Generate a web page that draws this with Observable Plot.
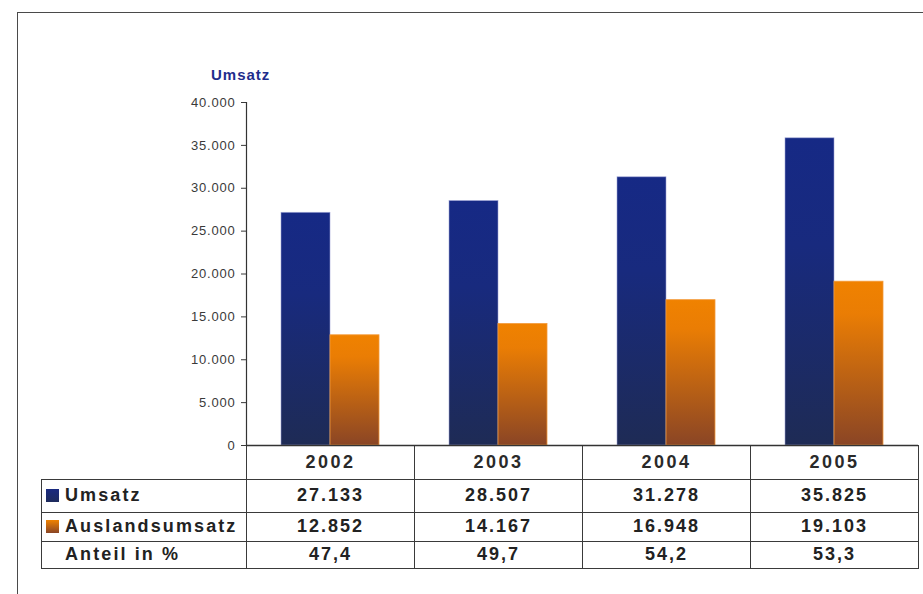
<!DOCTYPE html>
<html><head><meta charset="utf-8">
<script src="https://cdn.jsdelivr.net/npm/d3@7"></script>
<script src="https://cdn.jsdelivr.net/npm/@observablehq/plot@0.6"></script>
<style>
html,body{margin:0;padding:0;background:#fff;overflow:hidden;width:923px;height:594px;}
body{position:relative;font-family:"Liberation Sans",Arial,sans-serif;}
#frame{position:absolute;left:17px;top:12px;width:1000px;height:700px;border:1.5px solid #4a4a4a;box-sizing:border-box;}
#chart{position:absolute;left:0;top:0;}
#chart g[aria-label="fx-axis tick label"] text{letter-spacing:2.5px;}
#chart g[aria-label="y-axis tick label"] text{letter-spacing:0.8px;}
#title{position:absolute;left:211px;top:66px;font-size:15px;font-weight:bold;letter-spacing:1px;color:#1f2d8c;}
#tbl{position:absolute;left:41px;top:445px;border-collapse:collapse;table-layout:fixed;width:877px;color:#222;font-weight:bold;font-size:18px;letter-spacing:2px;}
#tbl td{border:1px solid #3a3a3a;padding:0;text-align:center;vertical-align:middle;}
#tbl tr.yr td{border-top:none;}
#tbl tr.yr td.blank{border-left:none;}
#tbl td.lab{text-align:left;padding-left:4px;letter-spacing:2.1px;}
.sq{display:inline-block;width:13px;height:13px;margin-right:6px;vertical-align:-1px;}
</style>
</head><body>
<div id="frame"></div>
<table id="tbl"><colgroup><col style="width:205px"><col style="width:168px"><col style="width:168px"><col style="width:168px"><col style="width:168px"></colgroup><tbody></tbody></table>
<div id="chart"></div>
<div id="title"></div>
<script>
const years = ["2002", "2003", "2004", "2005"];
const seriesNames = ["Umsatz", "Auslandsumsatz"];
const umsatz = [27133, 28507, 31278, 35825];
const auslandsumsatz = [12852, 14167, 16948, 19103];
const anteil = [47.4, 49.7, 54.2, 53.3];
const anteilLabel = "Anteil in %";
const axisTitle = "Umsatz";
const yTicks = [0, 5000, 10000, 15000, 20000, 25000, 30000, 35000, 40000];

const de = d3.formatLocale({decimal: ",", thousands: ".", grouping: [3], currency: ["", "€"]});
const fmtInt = de.format(",");
const fmtPct = de.format(",.1f");

const data = years.flatMap((year, i) => [
  {year, series: seriesNames[0], value: umsatz[i]},
  {year, series: seriesNames[1], value: auslandsumsatz[i]}
]);

const svg = Plot.plot({
  width: 923, height: 480,
  marginLeft: 246, marginRight: 5, marginTop: 102, marginBottom: 35,
  style: {fontFamily: '"Liberation Sans", Arial, sans-serif', background: "transparent", overflow: "visible"},
  fx: {domain: years, padding: 0, label: null},
  x: {domain: seriesNames, paddingInner: 0, paddingOuter: 0.714, axis: null},
  y: {domain: [0, 40000], label: null},
  marks: [
    Plot.axisY({ticks: yTicks, tickFormat: fmtInt, tickSize: 5, tickPadding: 6, fontSize: 13, color: "#3a3a3a", label: null}),
    Plot.axisFx({anchor: "bottom", tickSize: 0, tickPadding: 10, fontSize: 18, fontWeight: "bold", label: null, color: "#2a2a2a"}),
    Plot.barY(data.filter(d => d.series === seriesNames[0]), {fx: "year", x: "series", y: "value", fill: "url(#gBlue)", stroke: "#9da3d6", strokeWidth: 0.8, strokeOpacity: 0.7, inset: 0}),
    Plot.barY(data.filter(d => d.series === seriesNames[1]), {fx: "year", x: "series", y: "value", fill: "url(#gOrange)", stroke: "#f39a3a", strokeWidth: 0.8, inset: 0}),
    Plot.ruleY([0], {stroke: "#333", strokeWidth: 1.5}),
    Plot.frame({anchor: "left", facetAnchor: "left", stroke: "#333", strokeWidth: 1.2})
  ]
});

const defs = d3.select(svg).insert("defs", ":first-child");
const gb = defs.append("linearGradient").attr("id", "gBlue").attr("x1", 0).attr("y1", 0).attr("x2", 0).attr("y2", 1);
gb.append("stop").attr("offset", "0%").attr("stop-color", "#162985");
gb.append("stop").attr("offset", "35%").attr("stop-color", "#182a7e");
gb.append("stop").attr("offset", "100%").attr("stop-color", "#1e2b55");
const go = defs.append("linearGradient").attr("id", "gOrange").attr("x1", 0).attr("y1", 0).attr("x2", 0).attr("y2", 1);
go.append("stop").attr("offset", "0%").attr("stop-color", "#f08200");
go.append("stop").attr("offset", "20%").attr("stop-color", "#ea7d04");
go.append("stop").attr("offset", "100%").attr("stop-color", "#8a4525");
document.getElementById("chart").appendChild(svg);
document.getElementById("title").textContent = axisTitle;

const tb = d3.select("#tbl tbody");
const yr = tb.append("tr").attr("class", "yr").style("height", "34px");
yr.append("td").attr("class", "blank");
years.forEach(() => yr.append("td"));
const rows = [
  {label: seriesNames[0], sq: "linear-gradient(#1a2a80,#1e2b5c)", vals: umsatz.map(fmtInt), h: 33},
  {label: seriesNames[1], sq: "linear-gradient(#f08200,#8a4525)", vals: auslandsumsatz.map(fmtInt), h: 29},
  {label: anteilLabel, sq: null, vals: anteil.map(fmtPct), h: 27}
];
rows.forEach(r => {
  const tr = tb.append("tr").style("height", r.h + "px");
  const lab = tr.append("td").attr("class", "lab");
  if (r.sq) lab.append("span").attr("class", "sq").style("background", r.sq);
  else lab.append("span").attr("class", "sq").style("visibility", "hidden");
  lab.append("span").text(r.label);
  r.vals.forEach(v => tr.append("td").text(v));
});
</script>
</body></html>
